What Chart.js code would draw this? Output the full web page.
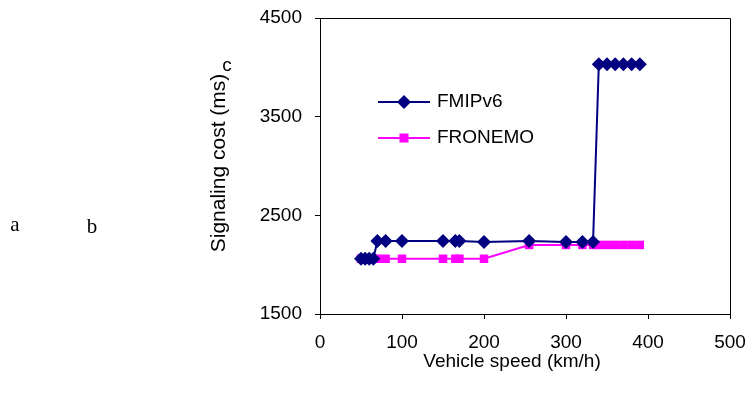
<!DOCTYPE html>
<html>
<head>
<meta charset="utf-8">
<script src="https://cdn.jsdelivr.net/npm/chart.js"></script>
<style>
  body { margin: 0; background: #fff; }
  #wrap { width: 749px; height: 393px; }
</style>
</head>
<body>
<div id="wrap"><canvas id="chart"></canvas></div>
<script>
const speeds = [50, 55, 60, 65, 70, 80, 100, 150, 165, 170, 200, 255, 300, 320, 333, 340, 350, 360, 370, 380, 390];
const fmipv6 = [2060, 2060, 2060, 2060, 2240, 2240, 2240, 2240, 2240, 2240, 2230, 2240, 2230, 2230, 2230, 4030, 4030, 4030, 4030, 4030, 4030];
const fronemo = [2060, 2060, 2060, 2060, 2060, 2060, 2060, 2060, 2060, 2060, 2060, 2200, 2200, 2200, 2200, 2200, 2200, 2200, 2200, 2200, 2200];
const yTicks = [1500, 2500, 3500, 4500];
const xTicks = [0, 100, 200, 300, 400, 500];

const font = 'Liberation Sans, Arial, sans-serif';

const toPoints = vals => speeds.map((s, i) => ({ x: s, y: vals[i] }));

// box round the plot, legend inside it, axis titles and the stray letters
const extras = {
  id: 'extras',
  afterDraw(chart) {
    const ctx = chart.ctx;
    const a = chart.chartArea;
    ctx.save();
    ctx.strokeStyle = '#000';
    ctx.lineWidth = 1;
    ctx.beginPath();
    ctx.moveTo(a.left, a.top + 0.5);
    ctx.lineTo(a.right + 0.5, a.top + 0.5);
    ctx.lineTo(a.right + 0.5, a.bottom);
    ctx.stroke();

    const rows = [102, 138];
    chart.data.datasets.forEach((ds, i) => {
      const y = rows[i];
      ctx.strokeStyle = ds.borderColor;
      ctx.lineWidth = 2;
      ctx.beginPath();
      ctx.moveTo(378, y);
      ctx.lineTo(430, y);
      ctx.stroke();
      ctx.fillStyle = ds.backgroundColor;
      const r = ds.pointRadius;
      ctx.beginPath();
      if (ds.pointStyle === 'rectRot') {
        ctx.moveTo(404, y - r); ctx.lineTo(404 + r, y); ctx.lineTo(404, y + r); ctx.lineTo(404 - r, y);
      } else {
        const h = r * 0.75;
        ctx.rect(404 - h, y - h, 2 * h, 2 * h);
      }
      ctx.fill();
      ctx.fillStyle = '#000';
      ctx.font = '19px ' + font;
      ctx.textBaseline = 'middle';
      ctx.textAlign = 'left';
      ctx.fillText(ds.label, 437, y);
    });

    ctx.fillStyle = '#000';
    ctx.textBaseline = 'middle';
    ctx.textAlign = 'center';
    ctx.font = '19px ' + font;
    ctx.fillText('Vehicle speed (km/h)', 512, 362);
    ctx.fillText('c', 227, 66);
    ctx.save();
    ctx.translate(219, 163);
    ctx.rotate(-Math.PI / 2);
    ctx.font = '21px ' + font;
    ctx.fillText('Signaling cost (ms)', 0, 0);
    ctx.restore();
    ctx.font = '21px Liberation Serif, Times New Roman, serif';
    ctx.fillText('a', 15, 225);
    ctx.fillText('b', 92, 227);
    ctx.restore();
  }
};

new Chart(document.getElementById('chart'), {
  type: 'scatter',
  data: {
    datasets: [{
      label: 'FMIPv6',
      data: toPoints(fmipv6),
      showLine: true,
      borderColor: '#000080',
      backgroundColor: '#000080',
      borderWidth: 2,
      pointStyle: 'rectRot',
      pointRadius: 7,
      pointBorderWidth: 0
    }, {
      label: 'FRONEMO',
      data: toPoints(fronemo),
      showLine: true,
      borderColor: '#ff00ff',
      backgroundColor: '#ff00ff',
      borderWidth: 2,
      pointStyle: 'rect',
      pointRadius: 6,
      pointBorderWidth: 0
    }]
  },
  options: {
    responsive: true,
    maintainAspectRatio: false,
    animation: false,
    layout: { padding: { left: 200, right: 19, top: 18, bottom: 15 } },
    plugins: { legend: { display: false }, tooltip: { enabled: false } },
    scales: {
      x: {
        type: 'linear',
        min: 0, max: 500,
        afterBuildTicks: s => { s.ticks = xTicks.map(v => ({ value: v })); },
        afterFit: s => { s.height = 64; s.paddingLeft = 0; s.paddingRight = 0; },
        grid: { drawOnChartArea: false, tickLength: 5, color: '#000' },
        border: { color: '#000' },
        ticks: { color: '#000', font: { family: font, size: 19 }, padding: 12, maxRotation: 0, callback: v => String(v) }
      },
      y: {
        min: 1500, max: 4500,
        afterBuildTicks: s => { s.ticks = yTicks.map(v => ({ value: v })); },
        afterFit: s => { s.width = 120; s.paddingTop = 0; s.paddingBottom = 0; },
        grid: { drawOnChartArea: false, tickLength: 5, color: '#000' },
        border: { color: '#000' },
        ticks: { color: '#000', font: { family: font, size: 19 }, padding: 13, callback: v => String(v) }
      }
    }
  },
  plugins: [extras]
});
</script>
</body>
</html>
